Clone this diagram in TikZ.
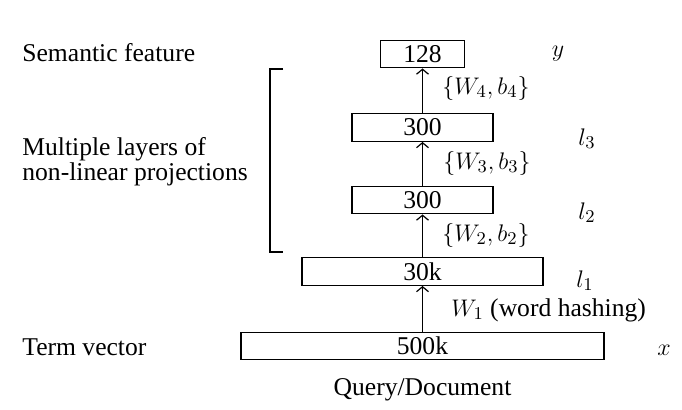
\documentclass[tikz,border=0pt]{standalone}
\usepackage{fontspec}
\setmainfont{Liberation Serif}
\usetikzlibrary{arrows.meta}

\tikzset{
  layer/.style={draw, line width=0.7pt, inner sep=0pt, minimum height=13.75pt},
  feed/.style={-{Straight Barb[length=2.5pt,width=6pt]}, line width=0.6pt},
  tag/.style={anchor=base west, inner sep=0pt},
  dimlbl/.style={anchor=base, inner sep=0pt},
}

\begin{document}
\begin{tikzpicture}[x=0.5pt, y=-0.5pt, font=\fontsize{12.8}{15.4}\selectfont]
	%%%%% START %%%%%
	\useasboundingbox (0,0) rectangle (682,409);
	
	% layers, bottom to top
	\node[layer, minimum width=181.5pt] (term) at (422.5, 346) {500k};
	\node[layer, minimum width=120.5pt] (hash) at (422.5, 271.5) {30k};
	\node[layer, minimum width=70.5pt] (hidtwo) at (422.5, 200) {300};
	\node[layer, minimum width=70.5pt] (hidthree) at (422.5, 127.5) {300};
	\node[layer, minimum width=42pt] (sem) at (422.5, 54) {128};
	
	\draw[feed] (term.north) -- (hash.south);
	\draw[feed] (hash.north) -- (hidtwo.south);
	\draw[feed] (hidtwo.north) -- (hidthree.south);
	\draw[feed] (hidthree.north) -- (sem.south);
	
	% weights
	\node[tag] (wone) at (451, 316) {$W_1$ (word hashing)};
	\node[tag] (wtwo) at (442, 241) {$\{W_2, b_2\}$};
	\node[tag] (wthree) at (443, 169) {$\{W_3, b_3\}$};
	\node[tag] (wfour) at (442, 94) {$\{W_4, b_4\}$};
	
	% layer symbols
	\node[dimlbl] (ysym) at (558, 56) {$y$};
	\node[dimlbl] (lthree) at (587, 145) {$l_3$};
	\node[dimlbl] (ltwo) at (587, 219) {$l_2$};
	\node[dimlbl] (lone) at (585, 287) {$l_1$};
	\node[dimlbl] (xsym) at (664, 355) {$x$};
	
	% left captions
	\node[tag] (semtxt) at (22, 61) {Semantic feature};
	\node[anchor=west, inner sep=0pt, align=left, font=\fontsize{12.8}{11.3}\selectfont] (multxt) at (22, 162) {Multiple layers of\\non-linear projections};
	\node[tag] (termtxt) at (22, 355) {Term vector};
	\node[dimlbl] (qdtxt) at (422.5, 395) {Query/Document};
	
	% bracket
	\draw[line width=0.6pt] (283, 69) -- (270, 69) -- (270, 252) -- (283, 252);
	
	%%%%% END %%%%%
\end{tikzpicture}
\end{document}
